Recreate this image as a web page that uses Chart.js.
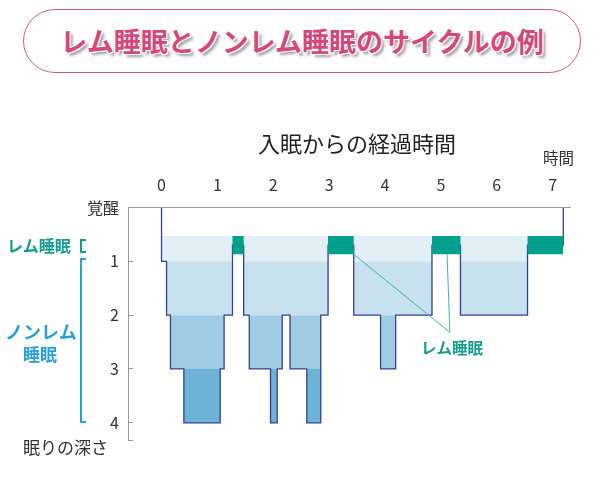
<!DOCTYPE html>
<html lang="ja">
<head>
<meta charset="utf-8">
<script src="https://cdn.jsdelivr.net/npm/chart.js@4.4.1/dist/chart.umd.min.js"></script>
<style>
  body { margin: 0; background: #fff; }
  #wrap { position: relative; width: 600px; height: 486px; font-family: 'Noto Sans CJK JP', sans-serif; }
  #sleepChart { position: absolute; left: 0; top: 0; }
  .t { position: absolute; white-space: nowrap; line-height: 1; }
  #banner {
    position: absolute; left: 23px; top: 9px; width: 558px; height: 64px;
    box-sizing: border-box; border: 1.5px solid #d6567f; border-radius: 32px;
    background: #fff; text-align: center;
  }
  #banner span {
    font-size: 27px; font-weight: bold; color: #d4487a; line-height: 61px;
    text-shadow: 1px 1px 0 #fff, -1px -1px 0 #fff, 1px -1px 0 #fff, -1px 1px 0 #fff,
                 3px 3px 3px rgba(0, 0, 0, 0.4);
  }
  .bracket { position: absolute; box-sizing: border-box; width: 6px; border-style: solid; border-width: 2px 0 2px 2px; }
</style>
</head>
<body>
<div id="wrap">
  <canvas id="sleepChart" width="600" height="486"></canvas>
  <div id="banner"><span>レム睡眠とノンレム睡眠のサイクルの例</span></div>
  <div class="t" style="left:258px; top:131px; font-size:22px; color:#222;">入眠からの経過時間</div>
  <div class="t" style="left:543px; top:150px; font-size:15.5px; color:#333;">時間</div>
  <div class="t" style="left:7px; top:237px; font-size:16px; font-weight:bold; color:#159c8d;">レム睡眠</div>
  <div class="bracket" style="left:80px; top:239px; height:14px; border-color:#159c8d;"></div>
  <div class="bracket" style="left:80px; top:258px; height:165px; border-color:#2a9ed9;"></div>
  <div class="t" style="left:5px; top:322px; font-size:18px; font-weight:bold; color:#2a9ed9;">ノンレム</div>
  <div class="t" style="left:23px; top:345px; font-size:17px; font-weight:bold; color:#2a9ed9;">睡眠</div>
  <div class="t" style="left:23px; top:438px; font-size:17px; color:#333;">眠りの深さ</div>
</div>
<script>
// axis ticks
const hourTicks = [0, 1, 2, 3, 4, 5, 6, 7];
const depthTicks = [0, 1, 2, 3, 4];
const depthLabels = ['覚醒', '1', '2', '3', '4'];

// hypnogram: each stage holds from its start hour until the next start
// 'W' = awake, 'R' = REM sleep, 1-4 = non-REM depth
const stageStart = [0, 0, 0.09, 0.16, 0.40, 1.05, 1.12, 1.27, 1.47, 1.57, 1.95, 2.07,
                    2.16, 2.30, 2.60, 2.85, 2.98, 3.44, 3.92, 4.19, 4.84, 5.35, 6.55, 7.19];
const stageValue = ['W', 1, 2, 3, 4, 3, 2, 'R', 2, 3, 4, 3,
                    2, 3, 4, 2, 'R', 2, 3, 2, 'R', 2, 'R', 'W'];

// REM band on the depth scale
const REM_TOP = 0.53;
const REM_BOTTOM = 0.87;

// depth bands and their shades
const bandLimits = [[REM_TOP, 1], [1, 2], [2, 3], [3, 4]];
const bandColors = ['#e2eff7', '#c7e1ef', '#9ecce4', '#6cb3d7'];

// callout for the REM periods
const calloutFrom = [[3.44, REM_BOTTOM], [5.11, REM_BOTTOM]];
const calloutTo = [5.16, 2.32];
const calloutText = 'レム睡眠';
const calloutAt = [5.2, 2.62];

const FONT = "'Noto Sans CJK JP', sans-serif";
const TEAL = '#00a08c';

function depthOf(v, remLevel) {
  if (v === 'W') return 0;
  if (v === 'R') return remLevel;
  return v;
}

const datasets = [];

// REM boxes (on top)
datasets.push({
  data: stageStart.map((h, i) => ({ x: h, y: stageValue[i] === 'R' ? REM_BOTTOM : REM_TOP })),
  stepped: true,
  borderColor: 'transparent',
  borderWidth: 0,
  pointRadius: 0,
  backgroundColor: TEAL,
  fill: { value: REM_TOP },
  order: 0
});

// outline of the sleep cycles
datasets.push({
  data: stageStart.map((h, i) => ({ x: h, y: depthOf(stageValue[i], 0.7) })),
  stepped: true,
  borderColor: '#34408c',
  borderWidth: 1.3,
  pointRadius: 0,
  fill: false,
  order: 1
});

// shaded depth bands
bandLimits.forEach(([lo, hi], k) => {
  datasets.push({
    data: stageStart.map((h, i) => ({
      x: h,
      y: Math.min(Math.max(depthOf(stageValue[i], REM_TOP), lo), hi)
    })),
    stepped: true,
    borderColor: 'transparent',
    borderWidth: 0,
    pointRadius: 0,
    backgroundColor: bandColors[k],
    fill: { value: lo },
    order: 2 + k
  });
});

const calloutPlugin = {
  id: 'callout',
  afterDatasetsDraw(chart) {
    const { ctx, scales: { x, y } } = chart;
    ctx.save();
    ctx.strokeStyle = '#3db6a7';
    ctx.lineWidth = 1;
    calloutFrom.forEach(p => {
      ctx.beginPath();
      ctx.moveTo(x.getPixelForValue(p[0]), y.getPixelForValue(p[1]));
      ctx.lineTo(x.getPixelForValue(calloutTo[0]), y.getPixelForValue(calloutTo[1]));
      ctx.stroke();
    });
    ctx.fillStyle = '#159c8d';
    ctx.font = 'bold 15.5px ' + FONT;
    ctx.textAlign = 'center';
    ctx.textBaseline = 'middle';
    ctx.fillText(calloutText, x.getPixelForValue(calloutAt[0]), y.getPixelForValue(calloutAt[1]));
    ctx.restore();
  }
};

new Chart(document.getElementById('sleepChart'), {
  type: 'line',
  data: { datasets: datasets },
  options: {
    responsive: false,
    animation: false,
    layout: { padding: { left: 0, top: 0, right: 30, bottom: 46 } },
    plugins: {
      legend: { display: false },
      tooltip: { enabled: false }
    },
    scales: {
      x: {
        type: 'linear',
        position: 'top',
        min: -0.6,
        max: 7.31,
        afterBuildTicks: scale => { scale.ticks = hourTicks.map(v => ({ value: v })); },
        afterFit: scale => { scale.height = 207.5; },
        grid: { display: false, drawTicks: false },
        border: { display: true, color: '#9a9a9a', width: 1 },
        ticks: { color: '#333', padding: 13, font: { size: 16, family: FONT } }
      },
      y: {
        type: 'linear',
        reverse: true,
        min: 0,
        max: 4.32,
        afterBuildTicks: scale => { scale.ticks = depthTicks.concat([4.32]).map(v => ({ value: v })); },
        afterFit: scale => { scale.width = 128; },
        grid: { display: true, drawOnChartArea: false, drawTicks: true, tickLength: -5, color: '#9a9a9a' },
        border: { display: true, color: '#9a9a9a', width: 1 },
        ticks: {
          color: '#333',
          padding: 14,
          font: { size: 16, family: FONT },
          callback: value => {
            const i = depthTicks.indexOf(value);
            return i >= 0 ? depthLabels[i] : '';
          }
        }
      }
    }
  },
  plugins: [calloutPlugin]
});
</script>
</body>
</html>
